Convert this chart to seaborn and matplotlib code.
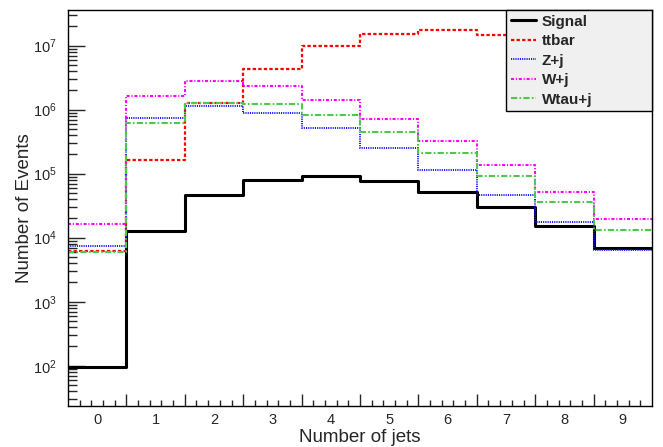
import numpy as np
import pandas as pd
import matplotlib
matplotlib.use("Agg")
import matplotlib.pyplot as plt
from matplotlib.ticker import FixedLocator, NullFormatter, LogLocator
import seaborn as sns

# number of jets per event, one bin per value
njets = [0, 1, 2, 3, 4, 5, 6, 7, 8, 9]
jet_labels = ["0", "1", "2", "3", "4", "5", "6", "7", "8", "9"]

# events per bin
signal = [96, 1.27e4, 4.6e4, 8.0e4, 9.2e4, 7.7e4, 5.2e4, 3.05e4, 1.5e4, 6.8e3]
ttbar = [6.2e3, 1.65e5, 1.27e6, 4.3e6, 1.0e7, 1.54e7, 1.76e7, 1.49e7, 9.0e6, 4.5e6]
zjets = [7.5e3, 7.5e5, 1.14e6, 8.9e5, 5.2e5, 2.55e5, 1.15e5, 4.65e4, 1.78e4, 6.5e3]
wjets = [1.65e4, 1.65e6, 2.8e6, 2.35e6, 1.43e6, 7.2e5, 3.25e5, 1.38e5, 5.2e4, 1.98e4]
wtaujets = [6.0e3, 6.1e5, 1.26e6, 1.24e6, 8.3e5, 4.5e5, 2.1e5, 9.1e4, 3.6e4, 1.33e4]

sns.set_style("ticks")
plt.rcParams["font.family"] = ["Liberation Sans", "DejaVu Sans"]
plt.rcParams["mathtext.fontset"] = "custom"
plt.rcParams["mathtext.rm"] = "Liberation Sans"
plt.rcParams["lines.scale_dashes"] = False

fig = plt.figure(figsize=(6.63, 4.47), dpi=100)
ax = fig.add_axes([68 / 663, 41 / 447, 584 / 663, 396 / 447])

edges = [n - 0.5 for n in njets] + [njets[-1] + 0.5]

samples = [
    ("Signal", signal, "black", 2.2, "-"),
    ("ttbar", ttbar, "#ff0000", 1.6, (0, (2.4, 1.6))),
    ("Z+j", zjets, "#1414ff", 1.4, (0, (0.8, 0.8))),
    ("W+j", wjets, "#ff00ff", 1.5, (0, (2.2, 1.3, 0.8, 1.3))),
    ("Wtau+j", wtaujets, "#4cc94c", 1.5, (0, (4.5, 1.6, 1.2, 1.6))),
]

for name, vals, col, lw, ls in samples:
    df = pd.DataFrame({"njets": njets, "events": vals})
    sns.histplot(data=df, x="njets", weights="events", bins=edges, element="step",
                 fill=False, color=col, linewidth=lw, linestyle=ls, label=name, ax=ax)

ax.set_yscale("log")
ax.set_xlim(-0.5, 9.5)
ax.set_ylim(23.5, 3.6e7)

# x axis: bin labels at centres, long ticks at bin edges, short ticks in between
ax.set_xticks(njets)
ax.set_xticklabels(jet_labels)
sub = [e + d for e in edges[:-1] for d in (0.2, 0.4, 0.6, 0.8)]
ax.xaxis.set_minor_locator(FixedLocator(sub))
ax.tick_params(axis="x", which="major", length=0, labelsize=10.5, pad=5)
ax.tick_params(axis="x", which="minor", direction="in", length=4.5, width=1)
sec = ax.secondary_xaxis("bottom")
sec.set_xticks(edges[1:-1])
sec.xaxis.set_major_formatter(NullFormatter())
sec.tick_params(direction="in", length=9, width=1, labelbottom=False)
sec.xaxis.label.set_visible(False)
sec.spines["bottom"].set_visible(False)

ax.yaxis.set_major_locator(LogLocator(base=10, numticks=20))
ax.yaxis.set_minor_locator(LogLocator(base=10, subs=np.arange(2, 10), numticks=20))
ax.yaxis.set_minor_formatter(NullFormatter())
ax.tick_params(axis="y", which="major", direction="in", length=12.5, width=1,
               labelsize=10.5, pad=8)
ax.tick_params(axis="y", which="minor", direction="in", length=6.5, width=1)

for sp in ax.spines.values():
    sp.set_visible(True)
    sp.set_linewidth(1)
    sp.set_color("black")

ax.set_xlabel("Number of jets", fontsize=13.5, labelpad=1.5)
ax.set_ylabel("Number of Events", fontsize=13.5, labelpad=0)

handles, labels = ax.get_legend_handles_labels()
leg = ax.legend(handles, labels, loc="upper right", bbox_to_anchor=(0.75, 0.75, 0.25, 0.25),
                mode="expand", borderaxespad=0, fancybox=False, framealpha=1,
                facecolor="#f0f0f0", edgecolor="black", prop={"weight": "bold", "size": 11},
                handlelength=1.65, handletextpad=0.4, labelspacing=0.36, borderpad=0.3)
leg.get_frame().set_linewidth(1)

fig.savefig("out.png", dpi=100)
